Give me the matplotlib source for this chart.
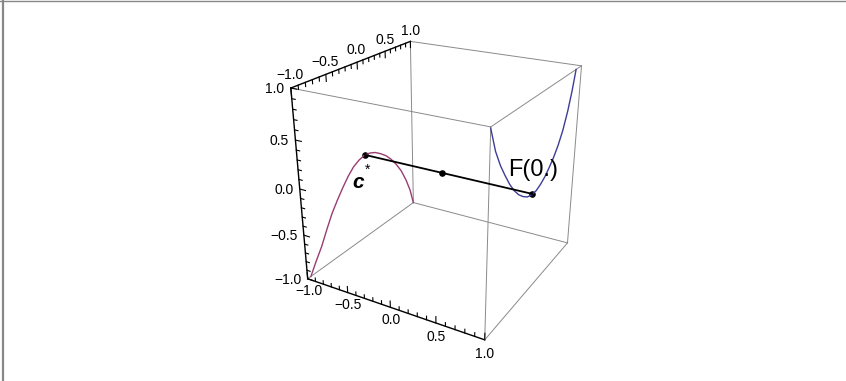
import numpy as np
import matplotlib
matplotlib.use("Agg")
import matplotlib.pyplot as plt
from matplotlib.lines import Line2D

plt.rcParams['font.family'] = ['Liberation Sans', 'DejaVu Sans']

# curve lying on the x = -1 face: (y, z)
c_y = [-0.95, -0.85, -0.75, -0.65, -0.55, -0.45, -0.35, -0.25, -0.15, -0.05, 0.05,
       0.15, 0.25, 0.35, 0.45, 0.55, 0.65, 0.75, 0.85, 0.93, 1.0]
c_z = [-1.00, -0.87, -0.75, -0.60, -0.46, -0.35, -0.25, -0.16, -0.09, -0.05, -0.03,
       -0.04, -0.07, -0.12, -0.18, -0.26, -0.36, -0.48, -0.64, -0.80, -1.00]

# image curve lying on the x = 1 face: (y, z)
f_y = [-1.0, -0.9, -0.8, -0.7, -0.6, -0.5, -0.4, -0.3, -0.2, -0.1, 0.0,
       0.1, 0.2, 0.3, 0.4, 0.5, 0.6, 0.7, 0.78, 0.85]
f_z = [0.99, 0.76, 0.60, 0.47, 0.35, 0.25, 0.17, 0.11, 0.065, 0.045, 0.045,
       0.07, 0.11, 0.17, 0.24, 0.33, 0.45, 0.62, 0.80, 1.00]

c_star = [-1.0, 0.06, -0.03]
f_zero = [1.0, -0.09, 0.05]

major_ticks = [-1.0, -0.5, 0.0, 0.5, 1.0]
tick_labels = ['\u22121.0', '\u22120.5', '0.0', '0.5', '1.0']
minor_ticks = np.linspace(-1.0, 1.0, 21)

fig = plt.figure(figsize=(8.46, 3.81), dpi=100)
ax = fig.add_axes([0.3193, 0.0908, 0.3985, 0.8845], projection='3d')
ax.set_proj_type('persp', focal_length=0.4)
ax.view_init(elev=24, azim=-60)
ax.set_box_aspect((1, 1, 1))
ax.set_xlim(-1, 1)
ax.set_ylim(-1, 1)
ax.set_zlim(-1, 1)
ax.set_axis_off()
ax.computed_zorder = False

# bounding box, axis edges in black
axis_edges = {(0, -1, -1), (1, -1, 1), (2, -1, -1)}
for k in range(3):
    others = [i for i in range(3) if i != k]
    for a in (-1, 1):
        for b in (-1, 1):
            seg = np.zeros((3, 2))
            seg[k] = [-1, 1]
            seg[others[0]] = [a, a]
            seg[others[1]] = [b, b]
            if (k, a, b) in axis_edges:
                ax.plot(seg[0], seg[1], seg[2], color='black', lw=1.0)
            else:
                ax.plot(seg[0], seg[1], seg[2], color='#8a8a8a', lw=0.7)

# tick marks
for t in minor_ticks:
    big = abs(t * 2 - round(t * 2)) < 1e-6
    L = 0.07 if big else 0.04
    ax.plot([t, t], [-1, -1], [-1, -1 + L], color='black', lw=0.8)
    ax.plot([-1, -1], [t, t], [1, 1 - L], color='black', lw=0.8)
    ax.plot([-1, -1 + L], [-1, -1], [t, t], color='black', lw=0.8)

fs = 10
for t, lab in zip(major_ticks, tick_labels):
    ax.text(t, -1.0, -1.15, lab, ha='center', va='center', fontsize=fs)
    ax.text(-1.0, t, 1.12, lab, ha='center', va='center', fontsize=fs)
    ax.text(-1.04, -1.04, t, lab, ha='right', va='center', fontsize=fs)

# the two curves
ax.plot(np.full(len(c_y), -1.0), c_y, c_z, color='#993d71', lw=1.0)
ax.plot(np.full(len(f_y), 1.0), f_y, f_z, color='#3d3d99', lw=1.0)

# segment from c* to F(0) with its midpoint
mid = [(c_star[i] + f_zero[i]) / 2 for i in range(3)]
ax.plot([c_star[0], f_zero[0]], [c_star[1], f_zero[1]], [c_star[2], f_zero[2]],
        color='black', lw=1.3)
for p in (c_star, mid, f_zero):
    ax.scatter([p[0]], [p[1]], [p[2]], color='black', s=14, depthshade=False)

ax.text(-1.0, -0.08, -0.30, 'c', fontsize=15, fontweight='bold', style='italic',
        ha='center', va='center')
ax.text(-1.0, 0.09, -0.22, '*', fontsize=10, ha='center', va='center')
ax.text(1.0, -0.09, 0.29, 'F(0.)', fontsize=17, ha='center', va='center')

# frame around the graphic
fig.add_artist(Line2D([0.004, 0.004], [0, 1], transform=fig.transFigure,
                      color='#888888', lw=1.6))
fig.add_artist(Line2D([0, 1], [0.997, 0.997], transform=fig.transFigure,
                      color='#888888', lw=1.0))

fig.savefig('out.png', dpi=100)
